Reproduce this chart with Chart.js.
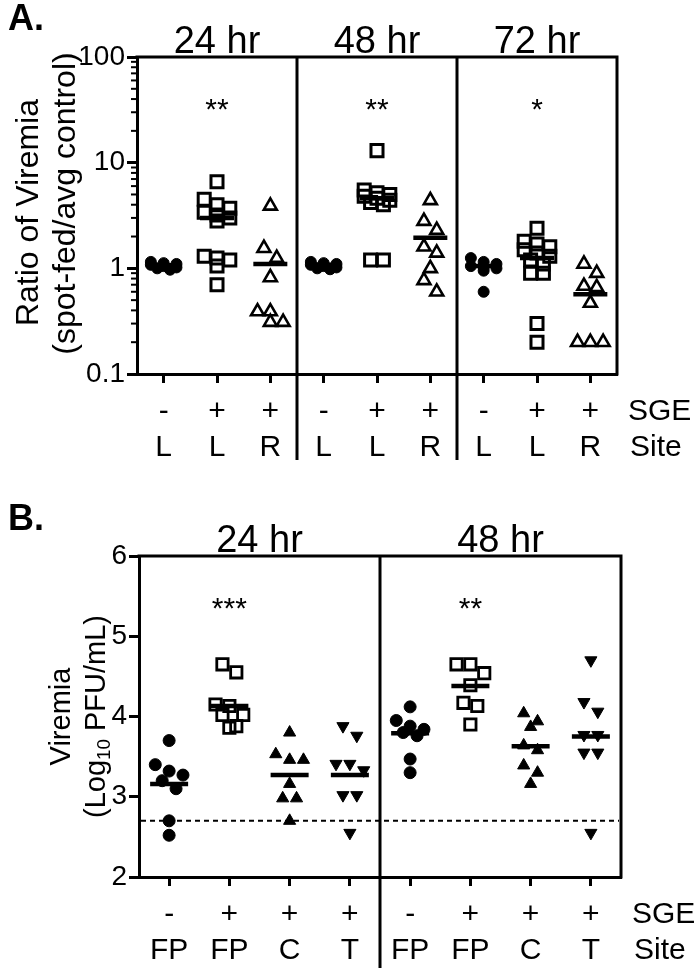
<!DOCTYPE html>
<html><head><meta charset="utf-8">
<script src="https://cdn.jsdelivr.net/npm/chart.js@4.4.1/dist/chart.umd.min.js"></script>
<style>
html,body{margin:0;padding:0;background:#fff;}
#wrap{position:relative;width:700px;height:968px;background:#fff;}
canvas{position:absolute;left:0;}
</style></head><body>
<div id="wrap">
<canvas id="cA" width="700" height="480" style="top:0;width:700px;height:480px"></canvas>
<canvas id="cB" width="700" height="488" style="top:480px;width:700px;height:488px"></canvas>
</div>
<script>
// ---------------- Panel A data ----------------
const timesA = ['24 hr', '48 hr', '72 hr'];
const sgeA = ['-', '+', '+', '-', '+', '+', '-', '+', '+'];
const siteA = ['L', 'L', 'R', 'L', 'L', 'R', 'L', 'L', 'R'];
const starsA = ['**', '**', '*'];
const starCatsA = [1, 4, 7];
const yTicksA = [0.1, 1, 10, 100];
const yTickLabelsA = ['0.1', '1', '10', '100'];
const a24Ctrl = [1.12, 1.08, 1.15, 1.05, 1.0, 1.02, 1.1, 0.97];
const a24SgeL = [6.6, 4.5, 4.0, 3.7, 3.4, 3.2, 3.0, 2.8, 1.3, 1.25, 1.2, 1.05, 0.7];
const a24SgeR = [3.9, 1.55, 1.25, 0.82, 0.39, 0.39, 0.31, 0.31];
const a48Ctrl = [1.12, 1.08, 1.15, 1.05, 1.0, 1.1, 1.02, 0.98];
const a48SgeL = [13, 5.5, 5.2, 5.0, 4.8, 4.6, 4.4, 4.2, 4.0, 1.2, 1.2];
const a48SgeR = [4.4, 2.8, 2.3, 1.6, 1.4, 1.0, 0.77, 0.6];
const a72Ctrl = [1.25, 1.15, 1.1, 1.05, 1.0, 0.95, 1.02, 0.6];
const a72SgeL = [2.4, 1.8, 1.7, 1.6, 1.5, 1.4, 1.3, 1.2, 1.1, 0.9, 0.9, 0.3, 0.2];
const a72SgeR = [1.1, 0.9, 0.68, 0.66, 0.47, 0.2, 0.2, 0.2];
const mediansA = [1.07, 3.0, 1.1, 1.08, 4.6, 1.95, 1.05, 1.25, 0.57];

// ---------------- Panel B data ----------------
const timesB = ['24 hr', '48 hr'];
const sgeB = ['-', '+', '+', '+', '-', '+', '+', '+'];
const siteB = ['FP', 'FP', 'C', 'T', 'FP', 'FP', 'C', 'T'];
const starsB = ['***', '**'];
const starCatsB = [1, 5];
const yTicksB = [2, 3, 4, 5, 6];
const yTickLabelsB = ['2', '3', '4', '5', '6'];
const b24Ctrl = [3.7, 3.4, 3.32, 3.27, 3.2, 3.1, 2.7, 2.52];
const b24SgeFP = [4.65, 4.55, 4.15, 4.13, 4.02, 4.02, 3.88, 3.86];
const b24SgeC = [3.8, 3.53, 3.46, 3.46, 3.16, 2.98, 2.98, 2.7];
const b24SgeT = [3.88, 3.76, 3.41, 3.41, 3.33, 3.02, 3.02, 2.55];
const b48Ctrl = [4.12, 3.95, 3.88, 3.84, 3.8, 3.76, 3.47, 3.30];
const b48SgeFP = [4.65, 4.65, 4.54, 4.39, 4.17, 4.13, 3.9];
const b48SgeC = [4.04, 3.94, 3.87, 3.64, 3.58, 3.39, 3.30, 3.16];
const b48SgeT = [4.7, 4.18, 4.06, 3.77, 3.77, 3.55, 3.55, 2.55];
const mediansB = [3.16, 4.13, 3.27, 3.27, 3.79, 4.38, 3.63, 3.75];
const detectionLimitB = 2.7;

// ---------------- helpers ----------------
const FONT = "'Liberation Sans', Arial, Helvetica, sans-serif";
Chart.defaults.font.family = FONT;
Chart.defaults.color = '#000';

// deterministic dot-plot spreading: points closer than thr share a row, centred
function swarm(vals, thr, step, maxRow) {
  const idx = vals.map((v, i) => i).sort((a, b) => vals[b] - vals[a]);
  const off = new Array(vals.length).fill(0);
  let g = [], start = null;
  const flush = () => { g.forEach((k, j) => { off[k] = (j - (g.length - 1) / 2) * step; }); g = []; };
  idx.forEach(k => {
    const v = vals[k];
    if (g.length && (Math.abs(v - start) > thr || g.length >= maxRow)) flush();
    if (!g.length) start = v;
    g.push(k);
  });
  flush();
  return off;
}
function groupPoints(vals, cat, isLog, thr, step) {
  const t = isLog ? vals.map(v => Math.log10(v)) : vals;
  const off = swarm(t, thr, step, 3);
  return vals.map((v, k) => ({ x: cat + off[k], y: v }));
}

const markA = [
  { pointStyle: 'circle', pointRadius: 5.5, backgroundColor: '#000', borderColor: '#000', borderWidth: 1, pointRotation: 0 },
  { pointStyle: 'rect', pointRadius: 8.5, backgroundColor: 'rgba(0,0,0,0)', borderColor: '#000', borderWidth: 3, pointRotation: 0 },
  { pointStyle: 'triangle', pointRadius: 7.5, backgroundColor: 'rgba(0,0,0,0)', borderColor: '#000', borderWidth: 2.6, pointRotation: 0 }
];
const markB = [
  { pointStyle: 'circle', pointRadius: 6, backgroundColor: '#000', borderColor: '#000', borderWidth: 1, pointRotation: 0 },
  { pointStyle: 'rect', pointRadius: 8, backgroundColor: 'rgba(0,0,0,0)', borderColor: '#000', borderWidth: 2.8, pointRotation: 0 },
  { pointStyle: 'triangle', pointRadius: 7, backgroundColor: '#000', borderColor: '#000', borderWidth: 1, pointRotation: 0 },
  { pointStyle: 'triangle', pointRadius: 7, backgroundColor: '#000', borderColor: '#000', borderWidth: 1, pointRotation: 180 }
];

function drawRotatedTitle(ctx, x, y, parts, size) {
  ctx.save();
  ctx.translate(x, y);
  ctx.rotate(-Math.PI / 2);
  ctx.textBaseline = 'middle';
  ctx.textAlign = 'left';
  let total = 0;
  parts.forEach(p => { ctx.font = `${p.sub ? size * 0.65 : size}px ${FONT}`; p.w = ctx.measureText(p.t).width; total += p.w; });
  let cx = -total / 2;
  parts.forEach(p => {
    ctx.font = `${p.sub ? size * 0.65 : size}px ${FONT}`;
    ctx.fillText(p.t, cx, p.sub ? size * 0.28 : 0);
    cx += p.w;
  });
  ctx.restore();
}

function decoPlugin(o) {
  return {
    id: 'deco' + o.key,
    afterDraw(chart) {
      const ctx = chart.ctx, a = chart.chartArea, xs = chart.scales.x, ys = chart.scales.y;
      ctx.save();
      ctx.strokeStyle = '#000'; ctx.fillStyle = '#000'; ctx.lineWidth = 3;
      ctx.beginPath();
      ctx.moveTo(a.left - 1.5, a.top); ctx.lineTo(a.right, a.top); ctx.lineTo(a.right, a.bottom + 1.5);
      ctx.stroke();
      o.dividers.forEach(v => {
        const x = xs.getPixelForValue(v);
        ctx.beginPath(); ctx.moveTo(x, a.top); ctx.lineTo(x, a.bottom + o.dividerExt); ctx.stroke();
      });
      if (o.minorTicks) {
        ctx.lineWidth = 2;
        [-1, 0, 1].forEach(e => {
          for (let m = 2; m <= 9; m++) {
            const y = ys.getPixelForValue(m * Math.pow(10, e));
            ctx.beginPath(); ctx.moveTo(a.left - 1, y); ctx.lineTo(a.left - 6, y); ctx.stroke();
          }
        });
      }
      if (o.limit !== undefined) {
        const y = ys.getPixelForValue(o.limit);
        ctx.lineWidth = 2; ctx.setLineDash([5, 4]);
        ctx.beginPath(); ctx.moveTo(a.left + 2, y); ctx.lineTo(a.right - 2, y); ctx.stroke();
        ctx.setLineDash([]);
      }
      ctx.textAlign = 'center'; ctx.textBaseline = 'alphabetic';
      ctx.font = `${o.titleSize}px ${FONT}`;
      o.titles.forEach((t, k) => {
        const x = (xs.getPixelForValue(o.titleBounds[k]) + xs.getPixelForValue(o.titleBounds[k + 1])) / 2;
        ctx.fillText(t, x, a.top - 4);
      });
      ctx.font = `30px ${FONT}`;
      o.stars.forEach((s, k) => ctx.fillText(s, xs.getPixelForValue(o.starCats[k]), a.top + 62));
      ctx.textAlign = 'left'; ctx.textBaseline = 'middle';
      ctx.font = `30px ${FONT}`;
      ctx.fillText('SGE', a.right + 11, a.bottom + 38);
      ctx.fillText('Site', a.right + 13, a.bottom + 74);
      ctx.font = `bold 36px ${FONT}`;
      ctx.fillText(o.letter, 8, o.letterY);
      const cy = (a.top + a.bottom) / 2;
      o.ytitle.forEach(line => drawRotatedTitle(ctx, line.x, cy + line.dy, line.parts, o.ytitleSize));
      ctx.restore();
    }
  };
}

function axisX(n, sge, site, h) {
  return {
    type: 'linear', min: -0.5, max: n - 0.5,
    afterBuildTicks: s => { s.ticks = sge.map((_, i) => ({ value: i })); },
    afterFit: s => { s.height = h; },
    grid: { display: true, drawOnChartArea: false, drawTicks: true, tickLength: 9, tickWidth: 3, tickColor: '#000', color: '#000' },
    border: { display: true, color: '#000', width: 3 },
    ticks: { autoSkip: false, maxRotation: 0, minRotation: 0, padding: 11, color: '#000',
      font: { size: 30, lineHeight: 1.2 }, callback: v => [sge[v], site[v]] }
  };
}

// ---------------- Chart A ----------------
const groupsA = [a24Ctrl, a24SgeL, a24SgeR, a48Ctrl, a48SgeL, a48SgeR, a72Ctrl, a72SgeL, a72SgeR];
const dsA = groupsA.map((g, i) => Object.assign({ data: groupPoints(g, i, true, 0.11, 0.24) }, markA[i % 3]));
dsA.push({ data: mediansA.map((m, i) => ({ x: i, y: m })), pointStyle: 'line', pointRadius: 17, borderColor: '#000', borderWidth: 4.5, backgroundColor: '#000' });

new Chart(document.getElementById('cA'), {
  type: 'scatter',
  data: { datasets: dsA },
  options: {
    responsive: false, animation: false, devicePixelRatio: 1,
    layout: { padding: { top: 57, right: 83, left: 0, bottom: 0 } },
    plugins: { legend: { display: false }, tooltip: { enabled: false } },
    scales: {
      x: axisX(9, sgeA, siteA, 106),
      y: {
        type: 'logarithmic', min: 0.1, max: 100,
        afterBuildTicks: s => { s.ticks = yTicksA.map(v => ({ value: v })); },
        afterFit: s => { s.width = 137; },
        grid: { display: true, drawOnChartArea: false, tickLength: 10, tickWidth: 3, tickColor: '#000', color: '#000' },
        border: { display: true, color: '#000', width: 3 },
        ticks: { autoSkip: false, padding: 2, color: '#000', font: { size: 28 },
          callback: v => yTickLabelsA[yTicksA.indexOf(v)] }
      }
    }
  },
  plugins: [decoPlugin({
    key: 'A', dividers: [2.5, 5.5], dividerExt: 86, minorTicks: true,
    titles: timesA, titleBounds: [-0.5, 2.5, 5.5, 8.5], titleSize: 38,
    stars: starsA, starCats: starCatsA, letter: 'A.', letterY: 20,
    ytitleSize: 32,
    ytitle: [{ x: 29, dy: -3, parts: [{ t: 'Ratio of Viremia' }] }, { x: 66, dy: -12, parts: [{ t: '(spot-fed/avg control)' }] }]
  })]
});

// ---------------- Chart B ----------------
const groupsB = [b24Ctrl, b24SgeFP, b24SgeC, b24SgeT, b48Ctrl, b48SgeFP, b48SgeC, b48SgeT];
const dsB = groupsB.map((g, i) => Object.assign({ data: groupPoints(g, i, false, 0.15, 0.23) }, markB[i % 4]));
dsB.push({ data: mediansB.map((m, i) => ({ x: i, y: m })), pointStyle: 'line', pointRadius: 19, borderColor: '#000', borderWidth: 4.5, backgroundColor: '#000' });

new Chart(document.getElementById('cB'), {
  type: 'scatter',
  data: { datasets: dsB },
  options: {
    responsive: false, animation: false, devicePixelRatio: 1,
    layout: { padding: { top: 76, right: 79, left: 0, bottom: 0 } },
    plugins: { legend: { display: false }, tooltip: { enabled: false } },
    scales: {
      x: axisX(8, sgeB, siteB, 91),
      y: {
        type: 'linear', min: 2, max: 6,
        afterBuildTicks: s => { s.ticks = yTicksB.map(v => ({ value: v })); },
        afterFit: s => { s.width = 139; },
        grid: { display: true, drawOnChartArea: false, tickLength: 10, tickWidth: 3, tickColor: '#000', color: '#000' },
        border: { display: true, color: '#000', width: 3 },
        ticks: { autoSkip: false, padding: 2, color: '#000', font: { size: 28 },
          callback: v => yTickLabelsB[yTicksB.indexOf(v)] }
      }
    }
  },
  plugins: [decoPlugin({
    key: 'B', dividers: [3.5], dividerExt: 91, minorTicks: false, limit: detectionLimitB,
    titles: timesB, titleBounds: [-0.5, 3.5, 7.5], titleSize: 38,
    stars: starsB, starCats: starCatsB, letter: 'B.', letterY: 40,
    ytitleSize: 29,
    ytitle: [{ x: 62, dy: 0, parts: [{ t: 'Viremia' }] },
             { x: 97, dy: 0, parts: [{ t: '(Log' }, { t: '10', sub: true }, { t: ' PFU/mL)' }] }]
  })]
});
</script>
</body></html>
